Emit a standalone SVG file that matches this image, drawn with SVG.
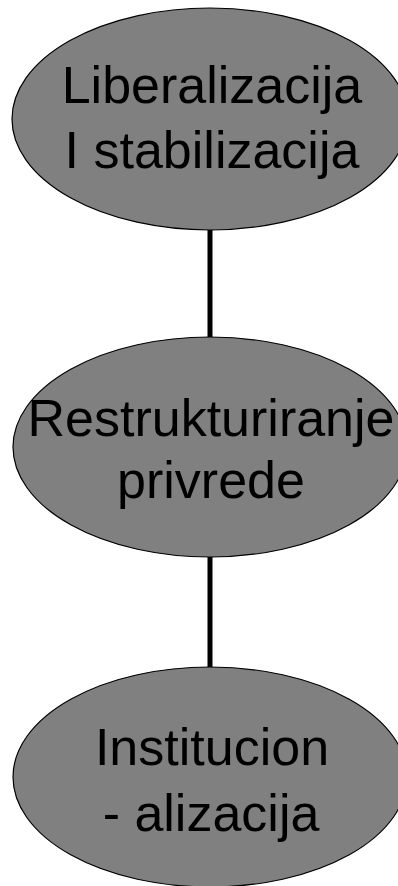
<svg xmlns="http://www.w3.org/2000/svg" width="398" height="886" viewBox="0 0 398 886">
<style>
.node ellipse{fill:#808080;stroke:#000;stroke-width:1.2}
.node text{font-family:"Liberation Sans",Arial,sans-serif;font-size:52px;fill:#000;text-anchor:middle}
.conn line{stroke:#000;stroke-width:5}
</style>
<rect width="398" height="886" fill="#fff"/>
<g class="conn">
<line x1="210" y1="229" x2="210" y2="338"/>
<line x1="210" y1="557" x2="210" y2="668"/>
</g>
<g id="n1" class="node">
<ellipse cx="210" cy="119" rx="198" ry="111"/>
<text x="212" y="103">Liberalizacija</text>
<text x="212" y="168">I stabilizacija</text>
</g>
<g id="n2" class="node">
<ellipse cx="210" cy="447" rx="197" ry="110"/>
<text x="211" y="436">Restrukturiranje</text>
<text x="211" y="498">privrede</text>
</g>
<g id="n3" class="node">
<ellipse cx="210" cy="777" rx="197" ry="110"/>
<text x="212" y="765">Institucion</text>
<text x="211" y="831">- alizacija</text>
</g>
</svg>
